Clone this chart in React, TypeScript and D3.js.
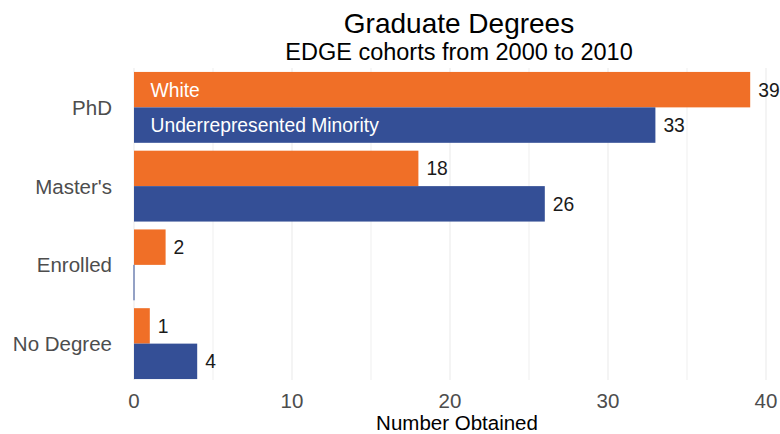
import React from "react";
import * as d3 from "d3";

const categories = ["PhD", "Master's", "Enrolled", "No Degree"];
const groups = ["White", "Underrepresented Minority"];
const whiteValues = [39, 18, 2, 1];
const urmValues = [33, 26, 0, 4];
const xTicks = [0, 10, 20, 30, 40];
const minorTicks = [5, 15, 25, 35];
const colors = ["#F06F27", "#344F96"];

const W = 780;
const H = 434;
const FONT = "'Liberation Sans', Arial, Helvetica, sans-serif";

export default function App() {
  const x = d3.scaleLinear().domain([0, 40]).range([134, 766]);
  const panelTop = 68;
  const panelBottom = 380;
  const y = d3.scaleBand<string>().domain(categories).range([68, 383]).paddingInner(0.1).paddingOuter(0.05);
  const sub = d3.scaleBand<string>().domain(groups).range([0, y.bandwidth()]).padding(0);
  const series = [whiteValues, urmValues];

  return (
    <svg width={W} height={H} style={{ position: "absolute", left: 0, top: 0, background: "#fff" }} fontFamily={FONT}>
      <rect x={0} y={0} width={W} height={H} fill="#fff" />
      {/* grid */}
      {minorTicks.map((t) => (
        <line key={"m" + t} x1={x(t)} x2={x(t)} y1={panelTop} y2={panelBottom} stroke="#EFEFEF" strokeWidth={1} />
      ))}
      {xTicks.map((t) => (
        <line key={"g" + t} x1={x(t)} x2={x(t)} y1={panelTop} y2={panelBottom} stroke="#EBEBEB" strokeWidth={1.1} />
      ))}
      {/* bars */}
      {categories.map((c, ci) =>
        groups.map((g, gi) => {
          const v = series[gi][ci];
          const y0 = (y(c) as number) + (sub(g) as number);
          return (
            <rect
              key={c + g}
              x={x(0) - (v === 0 ? 0.5 : 0)}
              y={y0}
              width={Math.max(x(v) - x(0), 1)}
              height={sub.bandwidth()}
              fill={colors[gi]}
            />
          );
        })
      )}
      {/* value labels */}
      {categories.map((c, ci) =>
        groups.map((g, gi) => {
          const v = series[gi][ci];
          if (v === 0) return null;
          const yc = (y(c) as number) + (sub(g) as number) + sub.bandwidth() / 2;
          return (
            <text key={"v" + c + g} x={x(v) + 8} y={yc + 7} fontSize={19.3} fill="#1a1a1a">
              {v}
            </text>
          );
        })
      )}
      {/* in-bar group labels */}
      {groups.map((g, gi) => {
        const yc = (y(categories[0]) as number) + (sub(g) as number) + sub.bandwidth() / 2;
        return (
          <text key={"l" + g} x={x(0) + 16.5} y={yc + 7} fontSize={19.3} fill="#ffffff">
            {g}
          </text>
        );
      })}
      {/* y axis labels */}
      {categories.map((c) => (
        <text
          key={"y" + c}
          x={112}
          y={(y(c) as number) + y.bandwidth() / 2 + 7.5}
          fontSize={20.5}
          fill="#4D4D4D"
          textAnchor="end"
        >
          {c}
        </text>
      ))}
      {/* x axis labels */}
      {xTicks.map((t) => (
        <text key={"x" + t} x={x(t)} y={407.5} fontSize={20.5} fill="#4D4D4D" textAnchor="middle">
          {t}
        </text>
      ))}
      <text x={457} y={429.5} fontSize={20.5} fill="#000" textAnchor="middle">
        Number Obtained
      </text>
      {/* titles */}
      <text x={459} y={33} fontSize={28} fill="#000" textAnchor="middle">
        Graduate Degrees
      </text>
      <text x={459} y={60} fontSize={23.5} fill="#000" textAnchor="middle">
        EDGE cohorts from 2000 to 2010
      </text>
    </svg>
  );
}
